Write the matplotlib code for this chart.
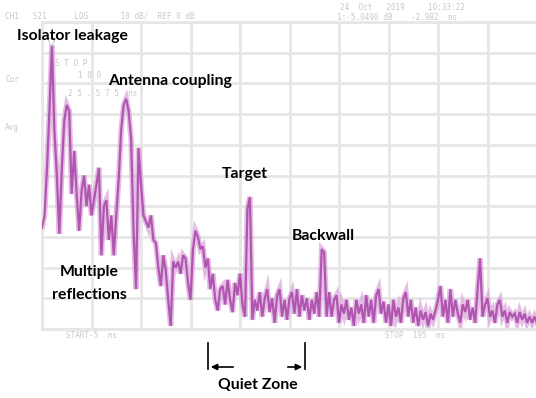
import matplotlib
matplotlib.use("Agg")
import matplotlib.pyplot as plt
import numpy as np

# Time-domain trace (ns, dB)
time_ns = list(range(-5, 196))
level_db = [
    -67, -63, -48, -29, -7.5, -35, -50, -69, -48, -32,
    -27, -29, -56, -42, -56, -68, -55, -50, -60, -53,
    -63, -58, -53, -47.5, -76, -60, -58, -71, -63, -76,
    -63, -51, -35, -27, -25, -29, -38, -68, -87, -41,
    -53, -63, -65, -67, -63, -71, -72, -80, -86, -76,
    -81, -90.5, -99, -78, -80, -78, -82, -76, -77, -85,
    -90.5, -74, -68, -70, -74, -73, -80, -77, -87, -82,
    -90.5, -94, -87, -86, -92, -84, -90.5, -94.5, -85, -89,
    -82, -92, -96, -61, -57, -97, -90.5, -94, -88, -96,
    -90, -87, -94.5, -90, -98, -89, -87, -96, -90.5, -97,
    -90, -88, -95, -87, -96, -89, -94, -90, -97, -90.5,
    -95, -88, -96, -74, -75, -96, -88, -96, -90.5, -89,
    -98, -92, -95, -90.5, -97, -93, -99, -90.5, -95, -92,
    -98, -89, -96, -90.5, -98, -89, -87, -95, -91, -98,
    -92, -99, -90.5, -96, -93, -98, -90, -88, -96, -90.5,
    -98, -93, -99, -94, -97, -94.5, -99, -95, -97, -94,
    -90.5, -86, -96, -90.5, -98, -87, -96, -90.5, -95, -98,
    -92, -94.5, -90.5, -97, -93, -98, -87, -77, -96, -92,
    -90, -96, -94, -98, -92, -90.5, -96, -94, -98, -94.5,
    -96, -95, -98, -94.5, -97, -95, -98, -96, -98, -96,
    -98,
]

t_start, t_stop = -5, 195
ref_top, ref_bottom = 0, -100

annotations = [
    ("Isolator leakage", 17, 36),
    ("Antenna coupling", 108, 81),
    ("Target", 222, 174),
    ("Backwall", 292, 236),
    ("Multiple", 89, 272),
    ("reflections", 89, 295),
    ("Quiet Zone", 258, 385),
]

W, H = 536, 398
fig = plt.figure(figsize=(W / 100, H / 100), dpi=100)
ax = fig.add_axes([42 / W, 1 - 329 / H, (537 - 42) / W, (329 - 22) / H])
ax.set_xlim(t_start, t_stop)
ax.set_ylim(ref_bottom, ref_top)
ax.set_xticks(np.arange(t_start, t_stop + 1, 20))
ax.set_yticks(np.arange(ref_bottom, ref_top + 1, 10))
ax.grid(True, color="#e6e6e6", lw=2)
ax.tick_params(left=False, bottom=False, labelleft=False, labelbottom=False)
for s in ax.spines.values():
    s.set_color("#e6e6e6")
    s.set_linewidth(2)
ax.set_axisbelow(True)

ax.plot(time_ns, level_db, color="#d9a2d9", lw=4.0, alpha=0.7, zorder=2,
        solid_joinstyle="miter")
ax.plot(time_ns, level_db, color="#a43ca4", lw=1.6, alpha=0.8, zorder=3,
        solid_joinstyle="miter")

# faint instrument header text
gray = "#c8c8c8"
fs = 5.5
mono = "DejaVu Sans Mono"
faint = [
    (5, 16, "CH1   S21      LOG       10 dB/  REF 0 dB"),
    (340, 8, "24  Oct   2019     10:33:22"),
    (337, 17, "1:-5.0490 dB    -2.982  ns"),
    (55, 63, "S T O P"),
    (78, 76, "1 0 0"),
    (68, 93, "2 5 . 5 7 5  ns"),
    (5, 80, "Cor"),
    (5, 128, "Avg"),
    (66, 336, "START-5  ns"),
    (385, 336, "STOP  195  ns"),
]
for x, y, txt in faint:
    fig.text(x / W, 1 - y / H, txt, color=gray, fontsize=fs, va="center", family=mono)

# annotations
for txt, x, y in annotations:
    ha = "center" if txt in ("Multiple", "reflections", "Quiet Zone") else "left"
    fig.text(x / W, 1 - y / H, txt, fontsize=11.3, fontweight="bold",
             family="Lato", ha=ha, va="center", color="black")

# Quiet zone markers
ax2 = fig.add_axes([0, 0, 1, 1], facecolor="none")
ax2.set_xlim(0, W)
ax2.set_ylim(H, 0)
ax2.axis("off")
for xp in (208, 305):
    ax2.plot([xp, xp], [343, 369], color="black", lw=1.2)
ax2.annotate("", xy=(208, 367), xytext=(236, 367),
             arrowprops=dict(arrowstyle="-|>", color="black", lw=1.2, mutation_scale=9))
ax2.annotate("", xy=(305, 367), xytext=(285, 367),
             arrowprops=dict(arrowstyle="-|>", color="black", lw=1.2, mutation_scale=9))
ax2.plot([51], [42], marker="v", ms=6, mfc="none", mec="#c8c8c8", mew=0.8)

fig.savefig("out.png", dpi=100)
